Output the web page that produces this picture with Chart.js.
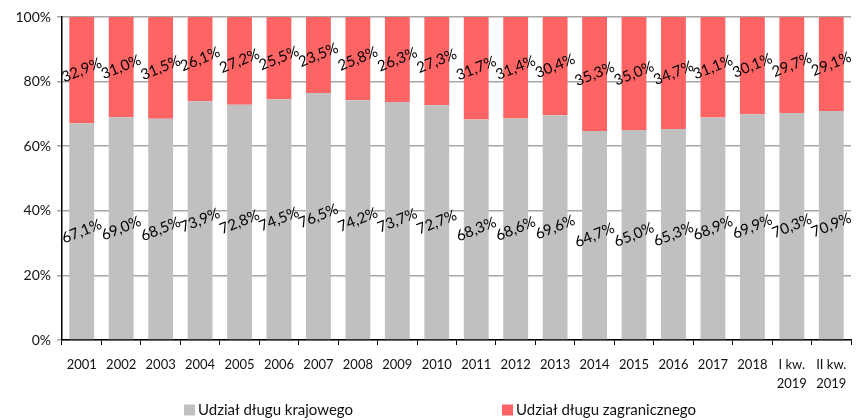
<!DOCTYPE html>
<html>
<head>
<meta charset="utf-8">
<script src="https://cdn.jsdelivr.net/npm/chart.js@4"></script>
<style>
  html, body { margin: 0; padding: 0; background: #fff; }
  #wrap { width: 859px; height: 420px; position: relative; }
</style>
</head>
<body>
<div id="wrap"><canvas id="c" width="859" height="420"></canvas></div>
<script>
const categories = ["2001","2002","2003","2004","2005","2006","2007","2008","2009","2010","2011","2012","2013","2014","2015","2016","2017","2018",["I kw.","2019"],["II kw.","2019"]];
const domesticShare = [67.1,69.0,68.5,73.9,72.8,74.5,76.5,74.2,73.7,72.7,68.3,68.6,69.6,64.7,65.0,65.3,68.9,69.9,70.3,70.9];
const foreignShare  = [32.9,31.0,31.5,26.1,27.2,25.5,23.5,25.8,26.3,27.3,31.7,31.4,30.4,35.3,35.0,34.7,31.1,30.1,29.7,29.1];
const seriesNames = ["Udział długu krajowego","Udział długu zagranicznego"];
const yTicks = [0,20,40,60,80,100];

const FONT = "Lato, 'Open Sans', sans-serif";
const colors = ["#c0c0c0", "#ff6464"];

const labelPlugin = {
  id: 'rotLabels',
  afterDatasetsDraw(chart) {
    const ctx = chart.ctx;
    ctx.save();
    ctx.font = "15px " + FONT;
    ctx.fillStyle = "#000";
    ctx.textAlign = "center";
    ctx.textBaseline = "middle";
    chart.data.datasets.forEach((ds, di) => {
      const meta = chart.getDatasetMeta(di);
      meta.data.forEach((el, i) => {
        const v = ds.data[i];
        const txt = v.toFixed(1).replace('.', ',') + '%';
        const cx = el.x, cy = (el.y + el.base) / 2;
        ctx.save();
        ctx.translate(cx, cy);
        ctx.rotate(-22 * Math.PI / 180);
        ctx.fillText(txt, 0, 0);
        ctx.restore();
      });
    });
    ctx.restore();
  }
};

const legendPlugin = {
  id: 'customLegend',
  afterDraw(chart) {
    const ctx = chart.ctx;
    ctx.save();
    ctx.font = "15px " + FONT;
    ctx.textBaseline = "middle";
    ctx.textAlign = "left";
    const items = [{x: 184, name: seriesNames[0], c: colors[0]}, {x: 502, name: seriesNames[1], c: colors[1]}];
    const y = 410;
    items.forEach(it => {
      ctx.fillStyle = it.c;
      ctx.fillRect(it.x, y - 5.5, 11, 11);
      ctx.fillStyle = "#111";
      ctx.fillText(it.name, it.x + 14, y);
    });
    ctx.restore();
  }
};

new Chart(document.getElementById('c'), {
  type: 'bar',
  data: {
    labels: categories,
    datasets: [
      { label: seriesNames[0], data: domesticShare, backgroundColor: colors[0], barPercentage: 0.63, categoryPercentage: 1 },
      { label: seriesNames[1], data: foreignShare, backgroundColor: colors[1], barPercentage: 0.63, categoryPercentage: 1 }
    ]
  },
  options: {
    responsive: false,
    animation: false,
    devicePixelRatio: 1,
    layout: { padding: { top: 17, right: 8, left: 0, bottom: 30 } },
    plugins: { legend: { display: false }, tooltip: { enabled: false } },
    scales: {
      x: {
        stacked: true,
        afterFit(s) { s.height = 50; },
        border: { color: "#000", width: 1.5 },
        grid: { display: true, offset: true, drawOnChartArea: false, color: "#000", tickLength: 5 },
        ticks: { color: "#111", font: { family: FONT, size: 13, lineHeight: 1.5 }, padding: 10, maxRotation: 0, autoSkip: false }
      },
      y: {
        stacked: true,
        min: 0, max: 100,
        afterFit(s) { s.width = 62; },
        afterBuildTicks(s) { s.ticks = yTicks.map(v => ({ value: v })); },
        border: { color: "#000", width: 1.5 },
        grid: { color: "#a6a6a6", lineWidth: 1.5, tickLength: 5 },
        ticks: { color: "#111", font: { family: FONT, size: 14 }, padding: 6, callback: v => v + '%' }
      }
    }
  },
  plugins: [labelPlugin, legendPlugin]
});
</script>
</body>
</html>
